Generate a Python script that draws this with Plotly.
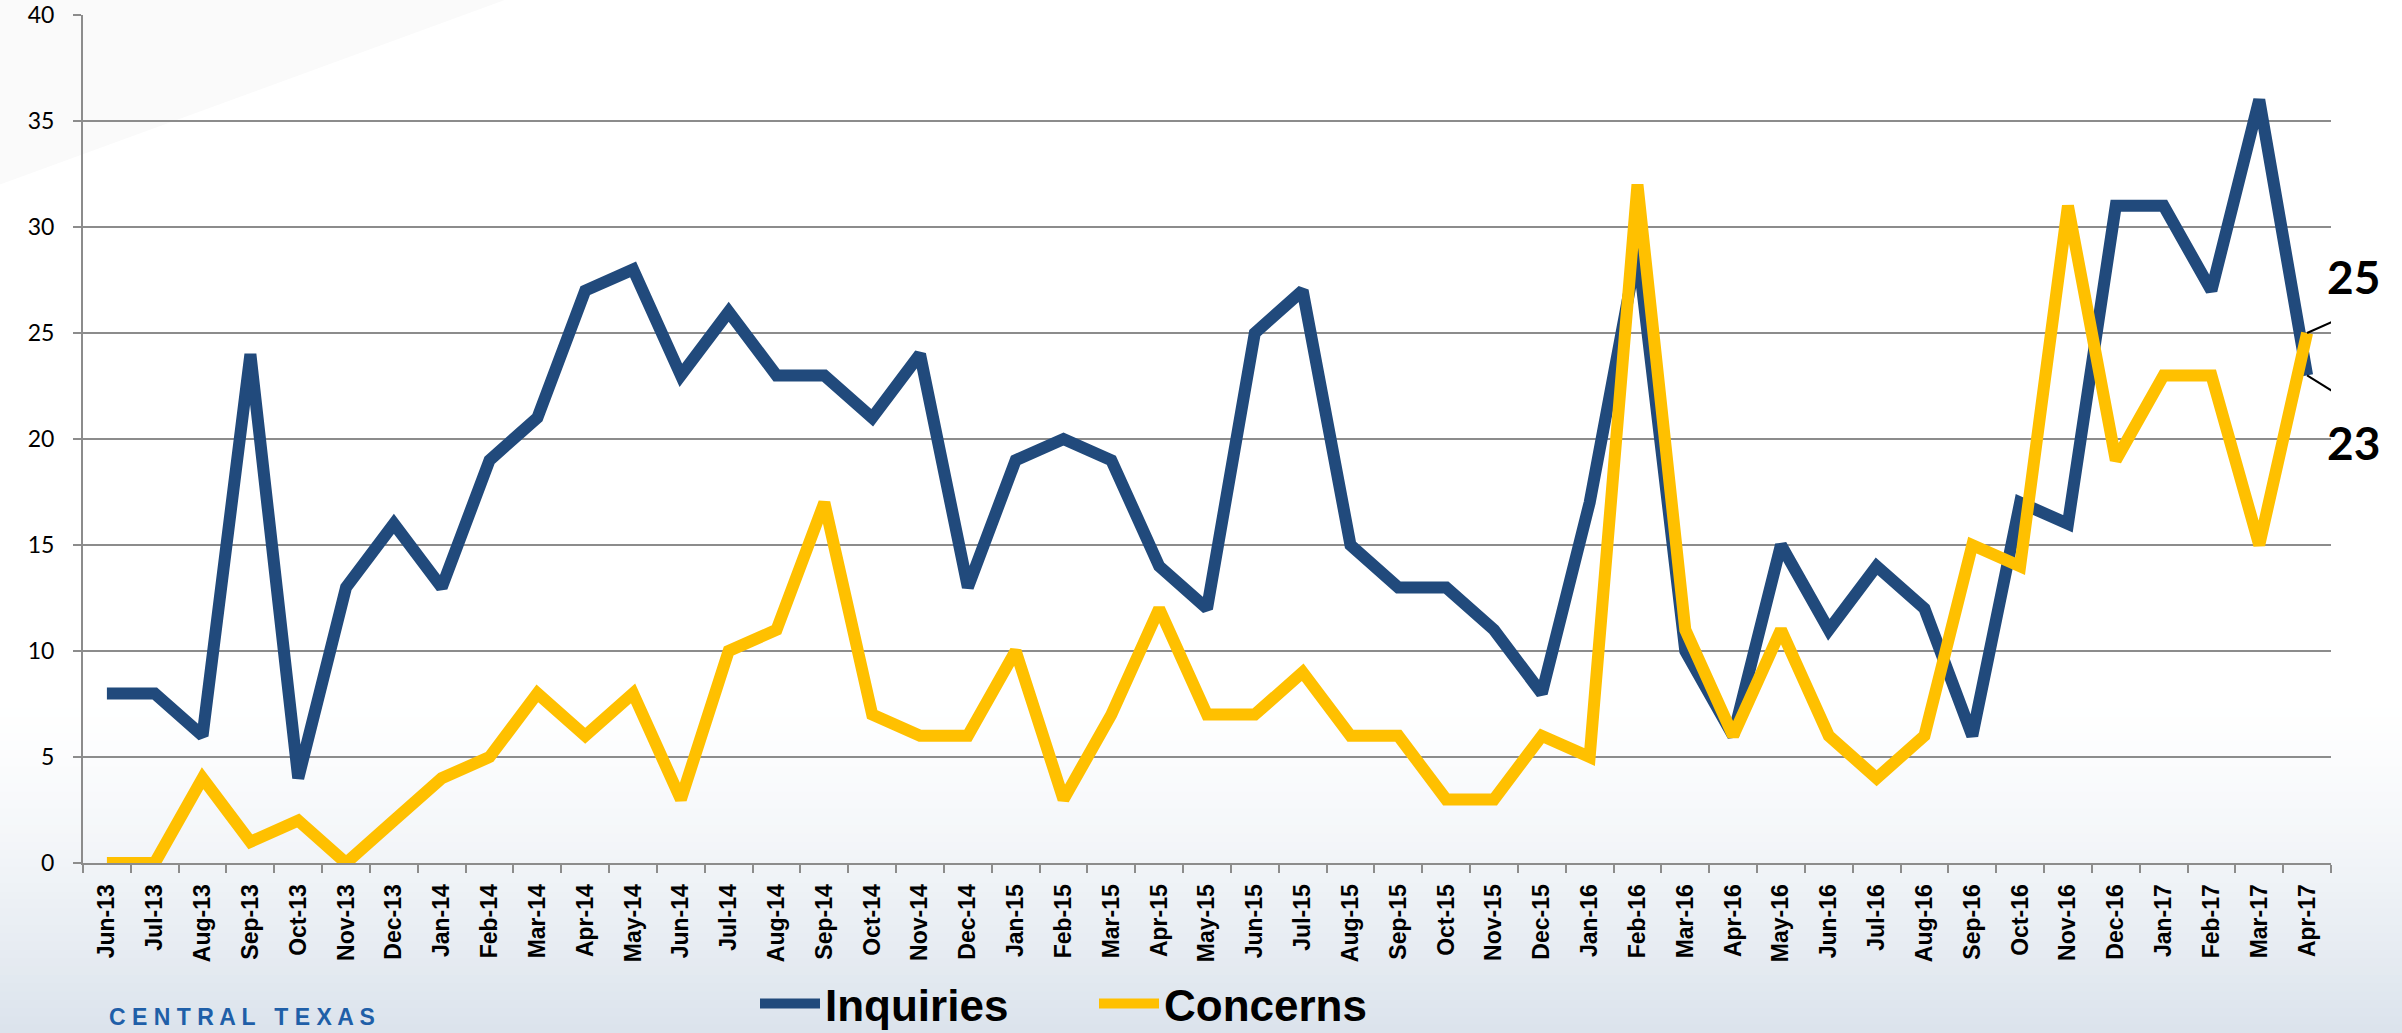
import plotly.graph_objects as go

months = ["Jun-13","Jul-13","Aug-13","Sep-13","Oct-13","Nov-13","Dec-13",
          "Jan-14","Feb-14","Mar-14","Apr-14","May-14","Jun-14","Jul-14","Aug-14","Sep-14","Oct-14","Nov-14","Dec-14",
          "Jan-15","Feb-15","Mar-15","Apr-15","May-15","Jun-15","Jul-15","Aug-15","Sep-15","Oct-15","Nov-15","Dec-15",
          "Jan-16","Feb-16","Mar-16","Apr-16","May-16","Jun-16","Jul-16","Aug-16","Sep-16","Oct-16","Nov-16","Dec-16",
          "Jan-17","Feb-17","Mar-17","Apr-17"]

inquiries = [8, 8, 6, 24, 4, 13, 16,
             13, 19, 21, 27, 28, 23, 26, 23, 23, 21, 24, 13,
             19, 20, 19, 14, 12, 25, 27, 15, 13, 13, 11, 8,
             17, 29, 10, 6, 15, 11, 14, 12, 6, 17, 16, 31,
             31, 27, 36, 23]

concerns = [0, 0, 4, 1, 2, 0, 2,
            4, 5, 8, 6, 8, 3, 10, 11, 17, 7, 6, 6,
            10, 3, 7, 12, 7, 7, 9, 6, 6, 3, 3, 6,
            5, 32, 11, 6, 11, 6, 4, 6, 15, 14, 31, 19,
            23, 23, 15, 25]

y_ticks = [0, 5, 10, 15, 20, 25, 30, 35, 40]

BLUE = "#214A7C"
GOLD = "#FFC000"
GRID = "#8C8C8C"

W, H = 2402, 1033
ml, mr, mt, mb = 83, 71, 15, 170
pw, ph = W - ml - mr, H - mt - mb

fig = go.Figure()
fig.add_trace(go.Scatter(x=months, y=inquiries, mode="lines", name="Inquiries",
                         line=dict(color=BLUE, width=12)))
fig.add_trace(go.Scatter(x=months, y=concerns, mode="lines", name="Concerns",
                         line=dict(color=GOLD, width=12)))

# soft blue-grey gradient towards the bottom of the page (drawn as thin bands)
def mix(c1, c2, t):
    a = [int(c1[i:i + 2], 16) for i in (1, 3, 5)]
    b = [int(c2[i:i + 2], 16) for i in (1, 3, 5)]
    return "#%02x%02x%02x" % tuple(round(a[k] + (b[k] - a[k]) * t) for k in range(3))

shapes = []
n = 40
top_px, bot_px = 700, H
for i in range(n):
    p0 = top_px + (bot_px - top_px) * i / n
    p1 = top_px + (bot_px - top_px) * (i + 1) / n + 1
    t = (i + 0.5) / n
    col = mix("#ffffff", "#dbe3ec", t ** 1.3)
    shapes.append(dict(type="rect", xref="paper", yref="paper", x0=-ml / pw, x1=1 + mr / pw,
                       y0=(H - mb - p1) / ph, y1=(H - mb - p0) / ph,
                       fillcolor=col, line=dict(width=0), layer="below"))
# very faint wedge top-left
shapes.append(dict(type="path", xref="paper", yref="paper",
                   path="M %f 1.02 L 0.19 1.02 L %f 0.80 Z" % (-ml / pw, -ml / pw),
                   fillcolor="#fafafa", line=dict(width=0), layer="below"))

# leader lines for the end labels
shapes.append(dict(type="line", xref="x", yref="y", xsizemode="pixel", ysizemode="pixel",
                   xanchor=len(months) - 1, yanchor=concerns[-1], x0=0, x1=45, y0=0, y1=20,
                   line=dict(color="black", width=2)))
shapes.append(dict(type="line", xref="x", yref="y", xsizemode="pixel", ysizemode="pixel",
                   xanchor=len(months) - 1, yanchor=inquiries[-1], x0=0, x1=45, y0=0, y1=-28,
                   line=dict(color="black", width=2)))

last = months[-1]
annotations = [
    dict(x=last, y=concerns[-1], xref="x", yref="y", text="<b>%d</b>" % concerns[-1], showarrow=False,
         xshift=46, yshift=57, font=dict(family="Lato, Carlito, sans-serif", size=46, color="black")),
    dict(x=last, y=inquiries[-1], xref="x", yref="y", text="<b>%d</b>" % inquiries[-1], showarrow=False,
         xshift=46, yshift=-67, font=dict(family="Lato, Carlito, sans-serif", size=46, color="black")),
    dict(x=(107 - ml) / pw, y=(H - mb - 1002) / ph, xref="paper", yref="paper",
         text="<b>C E N T R A L   T E X A S</b>", showarrow=False,
         xanchor="left", yanchor="top",
         font=dict(family="Liberation Sans, Arial, sans-serif", size=23, color="#1F5FA8")),
]

fig.update_layout(
    width=W, height=H,
    margin=dict(l=ml, r=mr, t=mt, b=mb, autoexpand=False),
    paper_bgcolor="white", plot_bgcolor="rgba(0,0,0,0)",
    showlegend=True,
    legend=dict(orientation="h", xref="container", yref="container",
                x=755 / W, xanchor="left", y=(H - 1004) / H, yanchor="middle",
                font=dict(family="Liberation Sans Narrow, Arial Narrow, Liberation Sans, sans-serif", size=44,
                          color="black", weight="bold"),
                itemwidth=60, entrywidth=264, entrywidthmode="pixels",
                bgcolor="rgba(0,0,0,0)", borderwidth=0),
    shapes=shapes, annotations=annotations,
    xaxis=dict(type="category", categoryorder="array", categoryarray=months, automargin=False,
               tickangle=-90, tickson="boundaries", ticks="outside", ticklen=8, tickwidth=2, tickcolor=GRID,
               showline=True, linecolor=GRID, linewidth=2, showgrid=False, zeroline=False,
               ticklabelstandoff=10, ticklabeloverflow="allow",
               tickfont=dict(family="Liberation Sans, Arial, sans-serif", size=23, color="black", weight="bold"),
               range=[-0.5, len(months) - 0.5]),
    yaxis=dict(range=[0, 40], tickvals=y_ticks, ticks="outside", ticklen=8, tickwidth=2, tickcolor=GRID,
               automargin=False, ticklabeloverflow="allow",
               showline=True, linecolor=GRID, linewidth=2, showgrid=True, gridcolor=GRID, gridwidth=2,
               zeroline=False, ticklabelstandoff=14,
               tickfont=dict(family="Lato, Carlito, sans-serif", size=23, color="black")),
)

fig.write_html("out.html", config={"displayModeBar": False},
               post_script="document.body.style.margin='0';document.body.style.overflow='hidden';")
